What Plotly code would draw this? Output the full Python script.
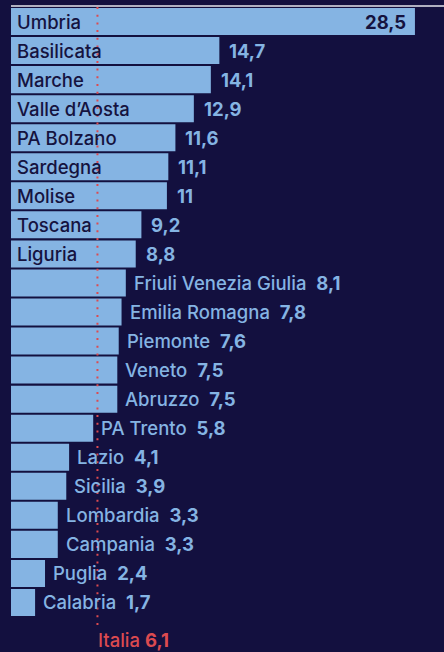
import plotly.graph_objects as go

# Regional values, top to bottom
regions = ["Umbria", "Basilicata", "Marche", "Valle d’Aosta", "PA Bolzano", "Sardegna",
           "Molise", "Toscana", "Liguria", "Friuli Venezia Giulia", "Emilia Romagna",
           "Piemonte", "Veneto", "Abruzzo", "PA Trento", "Lazio", "Sicilia",
           "Lombardia", "Campania", "Puglia", "Calabria"]
values = [28.5, 14.7, 14.1, 12.9, 11.6, 11.1, 11, 9.2, 8.8, 8.1, 7.8, 7.6, 7.5, 7.5,
          5.8, 4.1, 3.9, 3.3, 3.3, 2.4, 1.7]
national_label = "Italia"
national_value = 6.1

BG = "#13103f"
BAR = "#85b4e3"
DARK = "#15133f"
RED = "#dc4a50"
FONT = "Inter"
FS = 18.5
W, H = 444, 652
ML, MR, MT, MB = 11, 0, 7, 35
XMAX = 30.55


def fmt(v):
    s = f"{v:.1f}".replace(".", ",")
    return s[:-2] if s.endswith(",0") else s


fig = go.Figure(go.Bar(
    x=values, y=regions, orientation="h",
    marker=dict(color=BAR, line=dict(width=0)),
    hoverinfo="skip",
))


def label_font(color):
    return dict(color=color, size=FS, family=FONT, weight=500)


annotations = []
for i, (name, v) in enumerate(zip(regions, values)):
    if i == 0:
        # longest bar: name and value both inside
        annotations.append(dict(x=0, y=name, text=name, xanchor="left", xshift=4,
                                showarrow=False, font=label_font(DARK)))
        annotations.append(dict(x=v, y=name, text=f"<b>{fmt(v)}</b>", xanchor="right", xshift=-7,
                                showarrow=False, font=label_font(DARK)))
    elif i < 9:
        # name inside the bar, value just after it
        annotations.append(dict(x=0, y=name, text=name, xanchor="left", xshift=4,
                                showarrow=False, font=label_font(DARK)))
        annotations.append(dict(x=v, y=name, text=f"<b>{fmt(v)}</b>", xanchor="left", xshift=8,
                                showarrow=False, font=label_font(BAR)))
    else:
        # short bars: name and value after the bar
        annotations.append(dict(x=v, y=name, text=f"{name}\u00a0\u00a0<b>{fmt(v)}</b>",
                                xanchor="left", xshift=6, showarrow=False,
                                font=label_font(BAR)))

# national average marker label
annotations.append(dict(x=national_value, y=0, yref="paper", yanchor="bottom", yshift=-MB,
                        text=f"{national_label}\u00a0<b>{fmt(national_value)}</b>",
                        xanchor="left", xshift=0, showarrow=False, borderpad=0,
                        font=label_font(RED)))

plot_h = H - MT - MB
shapes = [
    # thin rule under the header
    dict(type="line", xref="paper", yref="paper", x0=0, x1=1,
         y0=1 + 1 / plot_h, y1=1 + 1 / plot_h, line=dict(color="#e6e6ee", width=1.5)),
    # national average reference line
    dict(type="line", xref="x", yref="paper", x0=national_value, x1=national_value,
         y0=1, y1=-12 / plot_h, line=dict(color=RED, width=2, dash="2px,5.7px"), layer="above"),
]

fig.update_layout(
    width=W, height=H,
    margin=dict(l=ML, r=MR, t=MT, b=MB, pad=0),
    paper_bgcolor=BG, plot_bgcolor=BG,
    bargap=0.07,
    showlegend=False,
    xaxis=dict(range=[0, XMAX], visible=False, fixedrange=True),
    yaxis=dict(autorange="reversed", visible=False, fixedrange=True),
    annotations=annotations,
    shapes=shapes,
    font=dict(family=FONT),
)

fig.write_html("out.html", config={"displayModeBar": False})
